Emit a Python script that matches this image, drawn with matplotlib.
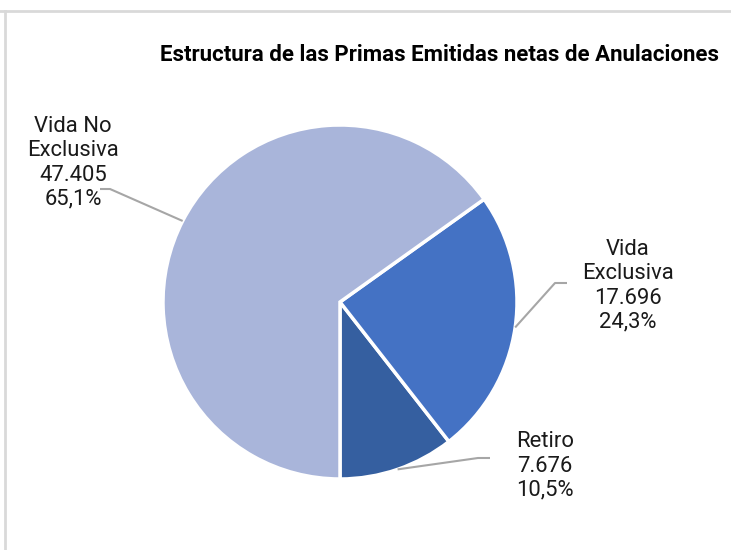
import matplotlib
matplotlib.use("Agg")
import matplotlib.pyplot as plt
from matplotlib.lines import Line2D
import numpy as np

plt.rcParams['font.family'] = ['Roboto', 'DejaVu Sans']

# data
categorias = ['Retiro', 'Vida\nExclusiva', 'Vida No\nExclusiva']
primas = [7676, 17696, 47405]
primas_txt = ['7.676', '17.696', '47.405']
porcentajes = ['10,5%', '24,3%', '65,1%']
colores = ['#355FA0', '#4472C4', '#A9B5DA']
titulo = 'Estructura de las Primas Emitidas netas de Anulaciones'

W, H = 731, 550
fig = plt.figure(figsize=(W / 100, H / 100), dpi=100)
ax = fig.add_axes([0, 0, 1, 1])

cx, cy, r = 340, 248, 177
wedges, _ = ax.pie(primas, colors=colores, startangle=-90, counterclock=True,
                   center=(cx, cy), radius=r,
                   wedgeprops=dict(edgecolor='white', linewidth=2.5))
ax.set_xlim(0, W)
ax.set_ylim(0, H)
ax.set_aspect('equal')
ax.axis('off')

# label layout: text centre, elbow point, line end
pos_texto = [(545, 84), (628, 264), (73, 387)]
codo = [(478, 92), (555, 267), (110, 361)]
fin = [(490, 92), (567, 267), (100, 361)]

for i, w in enumerate(wedges):
    ang = np.deg2rad((w.theta1 + w.theta2) / 2)
    ax0 = cx + r * np.cos(ang)
    ay0 = cy + r * np.sin(ang)
    ax.plot([ax0, codo[i][0], fin[i][0]], [ay0, codo[i][1], fin[i][1]],
            color='#A6A6A6', lw=1.5, solid_capstyle='butt')
    txt = categorias[i] + '\n' + primas_txt[i] + '\n' + porcentajes[i]
    ax.text(pos_texto[i][0], pos_texto[i][1], txt, ha='center', va='center',
            fontsize=15.8, color='#1a1a1a', linespacing=1.19)

ax.text(440, H - 55, titulo, ha='center', va='center', fontsize=16,
        fontweight='bold', color='black')

# outer frame lines
fig.add_artist(Line2D([0, 1], [1 - 11 / H, 1 - 11 / H], color='#D9D9D9', lw=2))
fig.add_artist(Line2D([5 / W, 5 / W], [0, 1 - 11 / H], color='#D9D9D9', lw=2))

fig.savefig('out.png', dpi=100)
